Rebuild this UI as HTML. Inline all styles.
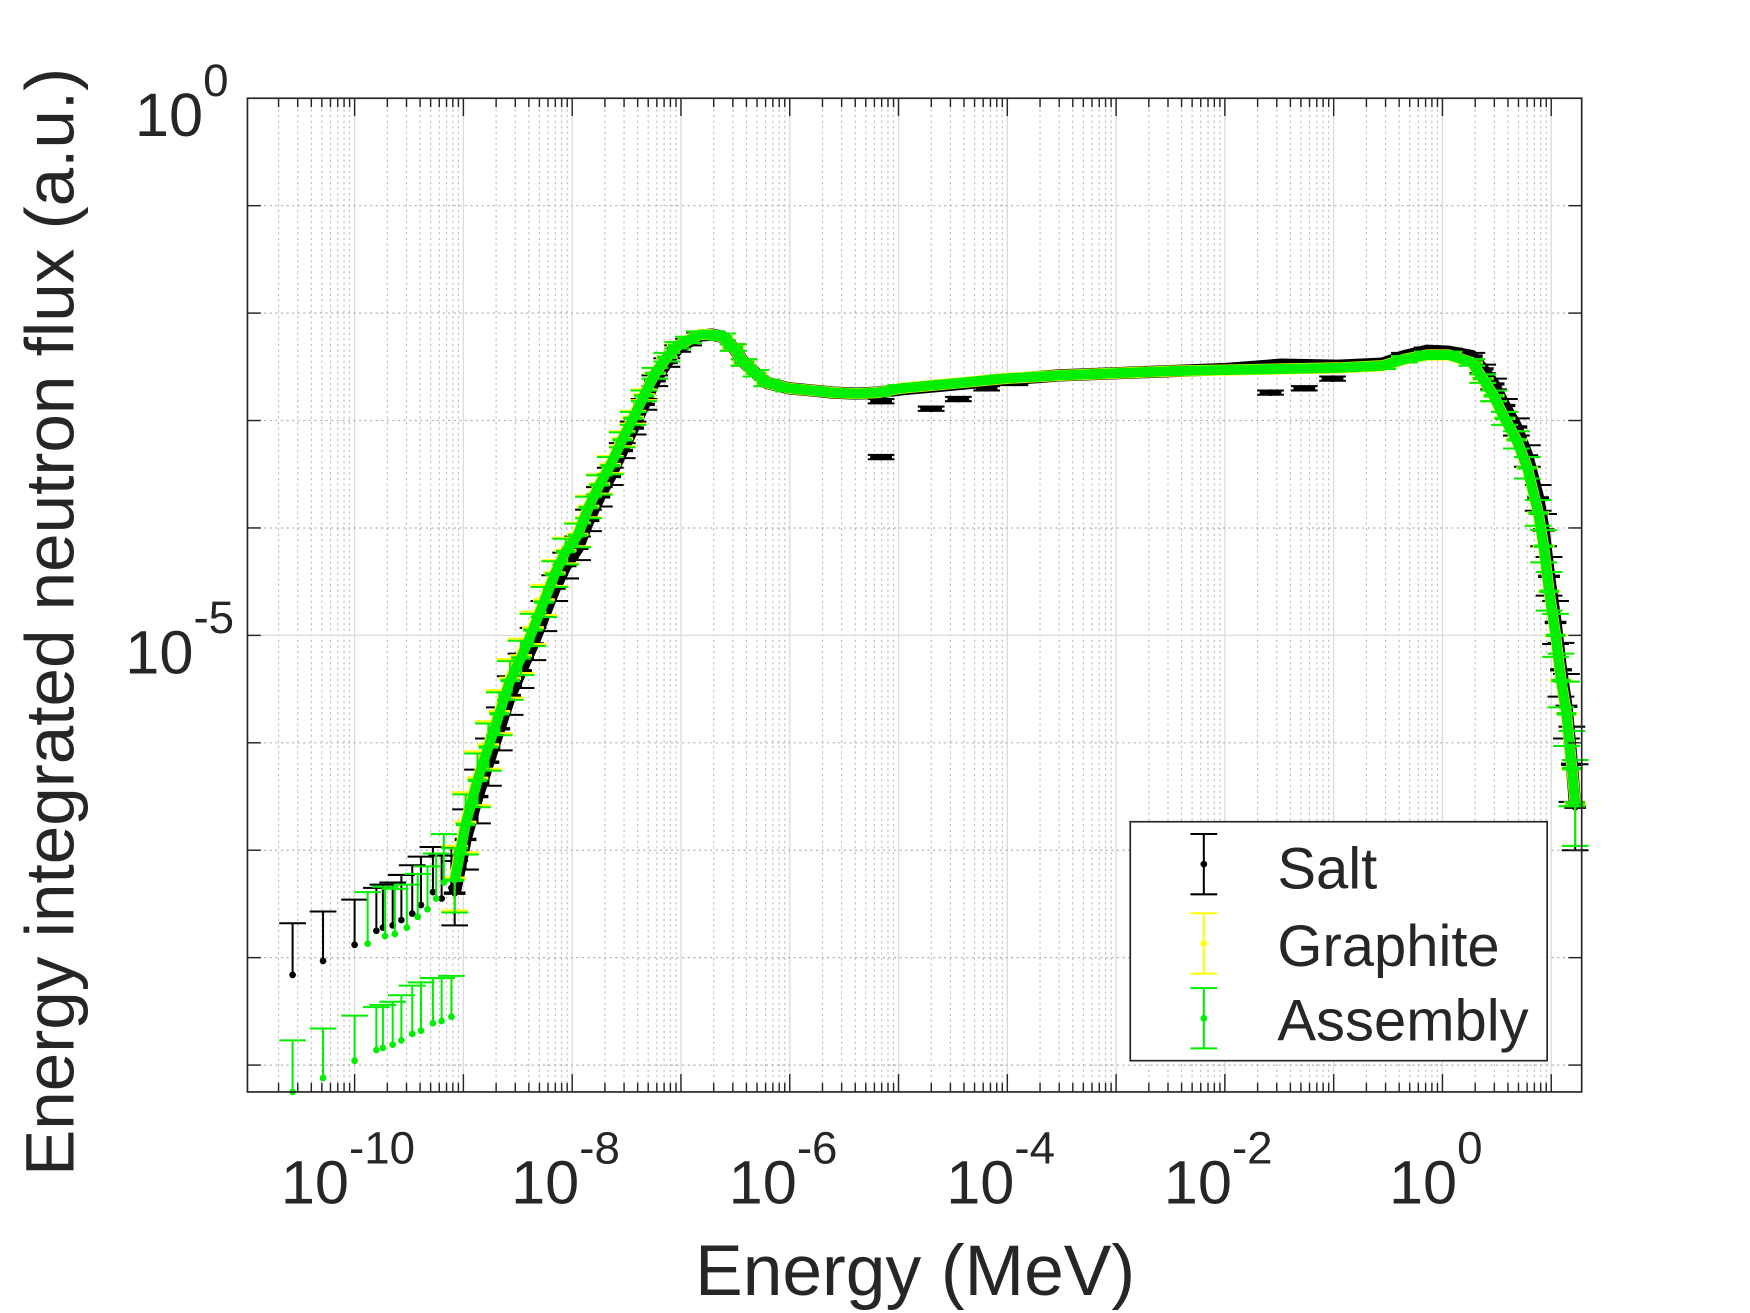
<!DOCTYPE html>
<html><head><meta charset="utf-8">
<style>
html,body{margin:0;padding:0;background:#fff;}
svg{display:block;}
text{font-family:"Liberation Sans",Arial,sans-serif;fill:#262626;}
</style></head>
<body>
<svg id="chart" xmlns="http://www.w3.org/2000/svg" width="1750" height="1313" viewBox="0 0 1570 1176" preserveAspectRatio="none">
<g id="grid"></g>
<g id="series"></g>
<g id="axes"></g>
<text x="821" y="1160" font-size="64" text-anchor="middle">Energy (MeV)</text>
<text transform="translate(66,557) rotate(-90)" font-size="62" text-anchor="middle">Energy integrated neutron flux (a.u.)</text>
<g>
<rect x="1014" y="736" width="374" height="214" fill="#fff" stroke="#262626" stroke-width="1.5"/>
<g><path d="M1080 747V801M1068 747H1092M1068 801H1092" stroke="#000" stroke-width="1.8"/><circle cx="1080" cy="774" r="3" fill="#000"/><text x="1146" y="796" font-size="52" fill="#000">Salt</text></g>
<g><path d="M1080 818V872M1068 818H1092M1068 872H1092" stroke="#ffff00" stroke-width="1.8"/><circle cx="1080" cy="845" r="3" fill="#ffff00"/><text x="1146" y="865" font-size="52" fill="#000">Graphite</text></g>
<g><path d="M1080 885V939M1068 885H1092M1068 939H1092" stroke="#00ee00" stroke-width="1.8"/><circle cx="1080" cy="912" r="3" fill="#00ee00"/><text x="1146" y="932" font-size="52" fill="#000">Assembly</text></g>
</g>
</svg>
<script>
// ---- data (log10 units) ----
const xTickExps = [-10, -8, -6, -4, -2, 0];
const yTickExps = [0, -5];
const mainE = [-9.08,-8.98,-8.87,-8.77,-8.67,-8.57,-8.47,-8.36,-8.26,-8.16,-8.06,-7.95,-7.85,-7.75,-7.65,-7.54,-7.44,-7.34,-7.24,-7.13,-7.03,-6.93,-6.83,-6.72,-6.62,-6.52,-6.42,-6.31,-6.21,-6.01,-5.80,-5.60,-5.39,-5.19,-4.98,-4.55,-4.04,-3.52,-3.01,-2.50,-1.99,-1.48,-0.96,-0.55,-0.35,-0.14,0.06,0.27,0.37,0.47,0.57,0.68,0.78,0.88,0.93,0.98,1.04,1.09,1.14,1.19,1.22];
const assemblyF = [-7.28,-6.76,-6.35,-6.04,-5.73,-5.42,-5.21,-4.95,-4.69,-4.43,-4.22,-4.07,-3.81,-3.60,-3.42,-3.18,-2.98,-2.77,-2.56,-2.41,-2.30,-2.25,-2.20,-2.20,-2.22,-2.32,-2.46,-2.56,-2.65,-2.70,-2.72,-2.74,-2.75,-2.74,-2.70,-2.66,-2.61,-2.58,-2.56,-2.54,-2.53,-2.52,-2.51,-2.49,-2.43,-2.39,-2.39,-2.46,-2.61,-2.77,-2.98,-3.18,-3.44,-3.86,-4.17,-4.59,-5.00,-5.42,-5.73,-6.24,-6.56];
const graphiteF = [-7.26,-6.74,-6.33,-6.02,-5.71,-5.40,-5.19,-4.93,-4.67,-4.42,-4.21,-4.06,-3.80,-3.59,-3.41,-3.17,-2.97,-2.76,-2.56,-2.41,-2.30,-2.25,-2.20,-2.20,-2.22,-2.32,-2.46,-2.56,-2.65,-2.70,-2.72,-2.74,-2.75,-2.74,-2.70,-2.66,-2.61,-2.58,-2.56,-2.54,-2.53,-2.52,-2.51,-2.49,-2.43,-2.39,-2.39,-2.46,-2.61,-2.77,-2.98,-3.18,-3.44,-3.86,-4.17,-4.59,-5.00,-5.42,-5.73,-6.24,-6.56];
const saltF = [-7.40,-6.90,-6.50,-6.18,-5.87,-5.56,-5.33,-5.08,-4.82,-4.56,-4.35,-4.19,-3.93,-3.71,-3.52,-3.28,-3.07,-2.85,-2.63,-2.46,-2.33,-2.27,-2.21,-2.20,-2.22,-2.32,-2.46,-2.56,-2.65,-2.70,-2.72,-2.74,-2.75,-2.74,-2.71,-2.67,-2.62,-2.58,-2.56,-2.54,-2.52,-2.48,-2.49,-2.47,-2.40,-2.35,-2.36,-2.40,-2.52,-2.66,-2.86,-3.06,-3.33,-3.72,-4.02,-4.45,-4.88,-5.32,-5.66,-6.20,-6.60];
const mainErr = [0.30,0.28,0.25,0.22,0.20,0.18,0.16,0.15,0.14,0.12,0.12,0.11,0.10,0.09,0.08,0.07,0.06,0.05,0.05,0.04,0.03,0.03,0.03,0.03,0.03,0.03,0.03,0.03,0.03,0.03,0.03,0.03,0.03,0.03,0.03,0.03,0.03,0.03,0.03,0.03,0.03,0.03,0.03,0.03,0.03,0.03,0.03,0.03,0.04,0.05,0.06,0.08,0.10,0.12,0.15,0.18,0.20,0.25,0.30,0.35,0.40];
const lowE = [-10.57,-10.29,-10.00,-9.80,-9.74,-9.65,-9.57,-9.47,-9.39,-9.28,-9.20,-9.11];
const saltLowF = [-8.16,-8.03,-7.88,-7.75,-7.72,-7.70,-7.65,-7.59,-7.51,-7.39,-7.45,-7.35];
const assemblyLowF = [-9.25,-9.12,-8.96,-8.86,-8.84,-8.81,-8.77,-8.71,-8.68,-8.61,-8.59,-8.55];
const assemblyMidE = [-9.88,-9.72,-9.63,-9.52,-9.42,-9.33,-9.25,-9.18];
const assemblyMidF = [-7.87,-7.80,-7.78,-7.72,-7.62,-7.55,-7.45,-7.30];
const lowErrUp = [0.48,0.46,0.42,0.40,0.40,0.40,0.42,0.45,0.45,0.42,0.40,0.38];
const saltDipE = [-5.16,-5.16,-4.70,-4.45,-4.19,-3.93,-1.58,-1.27,-1.01];
const saltDipF = [-3.34,-2.82,-2.89,-2.80,-2.70,-2.65,-2.74,-2.70,-2.61];

// ---- axis functions ----
const PL=222, PR=1419, PT=88, PB=978;
const XMIN=-10.985, XMAX=1.28, YMIN=-9.25, YMAX=0;
const xs = e => PL + (e - XMIN) / (XMAX - XMIN) * (PR - PL);
const ys = f => PB - (f - YMIN) / (YMAX - YMIN) * (PB - PT);
const NS='http://www.w3.org/2000/svg';
function mk(tag, attrs, parent){const el=document.createElementNS(NS,tag);for(const k in attrs)el.setAttribute(k,attrs[k]);parent.appendChild(el);return el;}

const grid=document.getElementById('grid'), axes=document.getElementById('axes'), ser=document.getElementById('series');
for(let d=-11; d<=1; d++){
  for(let m=1;m<=9;m++){
    const e=d+Math.log10(m); if(e<XMIN||e>XMAX) continue;
    const x=xs(e);
    const gl=mk('line',{x1:x,x2:x,y1:PT,y2:PB,stroke:m===1?'#dcdcdc':'#bdbdbd','stroke-width':m===1?1.2:1,'stroke-dasharray':m===1?'none':'2 3'},grid);
    
    
    const len=m===1?16:8;
    mk('line',{x1:x,x2:x,y1:PB,y2:PB-len,stroke:'#262626','stroke-width':1.3},axes);
    mk('line',{x1:x,x2:x,y1:PT,y2:PT+len,stroke:'#262626','stroke-width':1.3},axes);
  }
}
for(let d=0; d>=-9; d--){
  const y=ys(d);
  const gl=mk('line',{x1:PL,x2:PR,y1:y,y2:y,stroke:d===-5||d===0?'#dcdcdc':'#b5b5b5','stroke-width':1.1,'stroke-dasharray':d===-5||d===0?'none':'2 3'},grid);
  
  
  mk('line',{x1:PL,x2:PL+12,y1:y,y2:y,stroke:'#262626','stroke-width':1.3},axes);
  mk('line',{x1:PR,x2:PR-12,y1:y,y2:y,stroke:'#262626','stroke-width':1.3},axes);
}
const box=mk('rect',{x:PL,y:PT,width:PR-PL,height:PB-PT,fill:'none',stroke:'#262626','stroke-width':1.5},axes);


xTickExps.forEach(e=>{
  const t=mk('text',{x:xs(e)-6,y:1078,'font-size':55,'text-anchor':'middle'},axes);
  
  
  t.textContent='10';
  const s=mk('tspan',{dy:-36,'font-size':41},t); s.textContent=String(e);
});
yTickExps.forEach(e=>{
  const t=mk('text',{x:e===0?205:210,y:ys(e)+34,'font-size':55,'text-anchor':'end'},axes);
  
  
  t.textContent='10';
  const s=mk('tspan',{dy:-36,'font-size':41},t); s.textContent=String(e);
});

function drawBand(E,F,color,w,name){
  const p=mk('polyline',{points:E.map((e,i)=>xs(e)+','+ys(F[i])).join(' '),fill:'none',stroke:color,'stroke-width':w,'stroke-linejoin':'round'},ser);
  
  
}
function drawBars(E,F,up,dn,color,name,hw){
  E.forEach((e,i)=>{
    const g=mk('g',{},ser);
    
    
    const x=xs(e), y=ys(F[i]), yt=ys(F[i]+up[i]), yb=dn?ys(F[i]-dn[i]):y;
    mk('line',{x1:x,x2:x,y1:yt,y2:Math.min(yb,PB),stroke:color,'stroke-width':1.8},g);
    mk('line',{x1:x-12,x2:x+12,y1:yt,y2:yt,stroke:color,'stroke-width':1.8},g);
    if(dn&&yb<PB) mk('line',{x1:x-12,x2:x+12,y1:yb,y2:yb,stroke:color,'stroke-width':1.8},g);
    if(hw) mk('line',{x1:xs(e-hw),x2:xs(e+hw),y1:y,y2:y,stroke:color,'stroke-width':3},g);
    mk('circle',{cx:x,cy:y,r:3,fill:color},g);
  });
}
drawBand(mainE,saltF,'#000',11,'salt-band');
drawBars(mainE,saltF,mainErr,mainErr,'#000','salt-point',0.1);
drawBars(lowE,saltLowF,lowErrUp,null,'#000','salt-low-point',0);
drawBars(saltDipE,saltDipF,saltDipF.map(()=>0.02),saltDipF.map(()=>0.02),'#000','salt-dip-point',0.1);
drawBand(mainE,graphiteF,'#ffff00',10,'graphite-band');
drawBars(mainE,graphiteF,mainErr,mainErr,'#ffff00','graphite-point',0.1);
drawBand(mainE,assemblyF,'#00ee00',9,'assembly-band');
drawBars(mainE,assemblyF,mainErr,mainErr,'#00ee00','assembly-point',0.09);
drawBars(lowE,assemblyLowF,lowErrUp,null,'#00ee00','assembly-low-point',0);
drawBars(assemblyMidE,assemblyMidF,lowErrUp.slice(0,8),null,'#00ee00','assembly-mid-point',0);
</script>
</body></html>
